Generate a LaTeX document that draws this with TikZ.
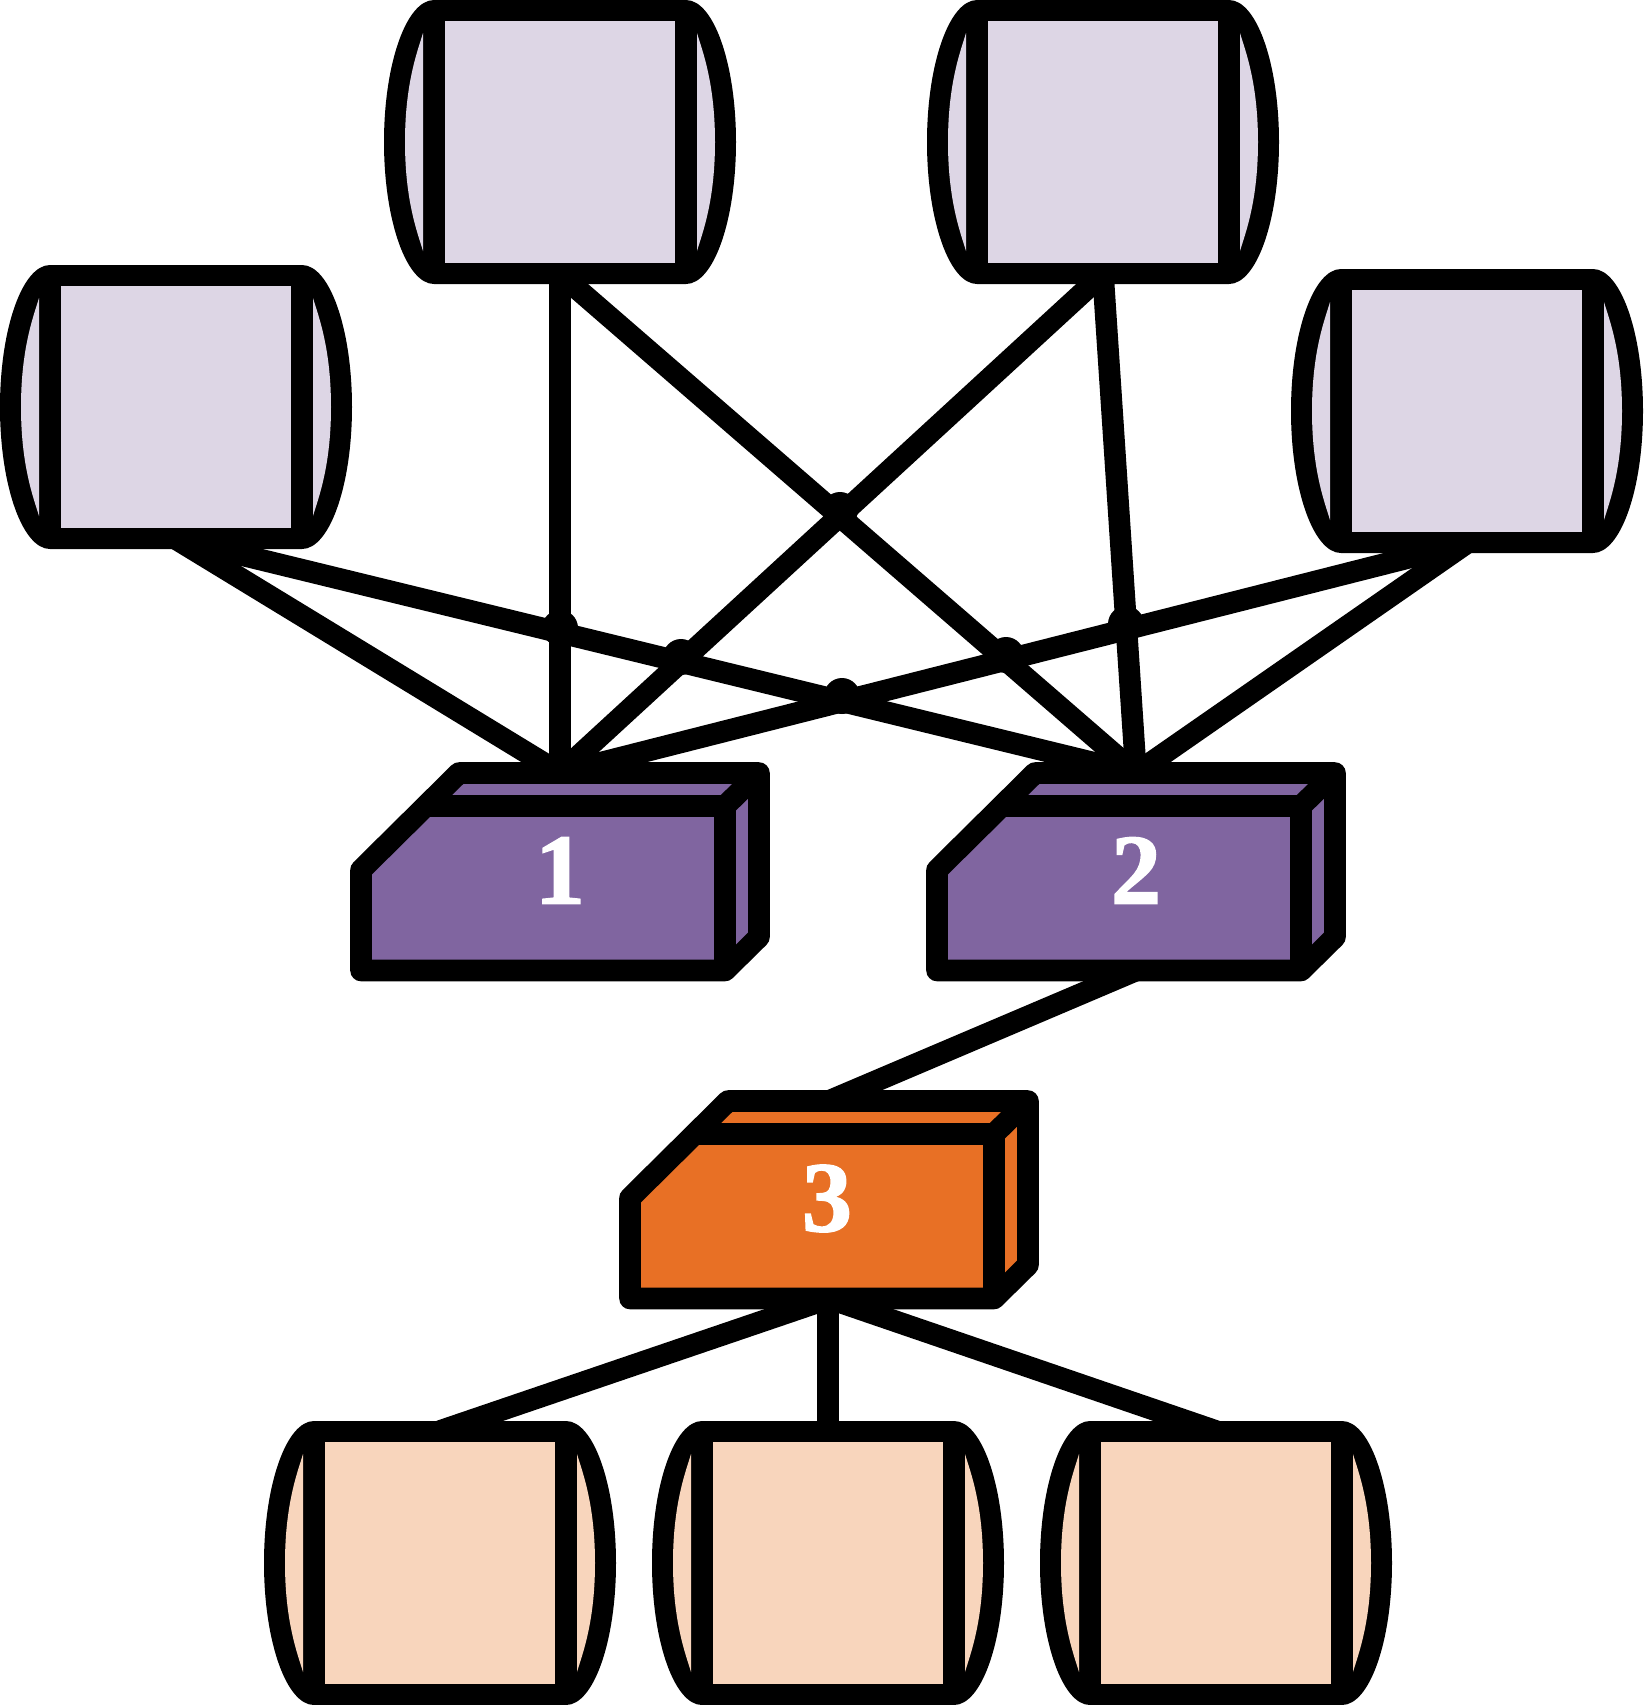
\documentclass[tikz,border=0pt]{standalone}
\usepackage{fontspec}
\newfontfamily\numfont[FakeBold=1.6]{Liberation Serif Bold}
\definecolor{lav}{HTML}{DDD6E5}
\definecolor{purp}{HTML}{8065A0}
\definecolor{orng}{HTML}{E87025}
\definecolor{peach}{HTML}{F8D5BC}
\tikzset{
  x=.5pt,y=-.5pt,
  wire/.style={line width=10.8pt,black,line cap=butt},
  heavy/.style={line width=10.8pt,black,line join=round},
  bump/.style={circle,fill=black,inner sep=0pt,minimum size=18pt},
  digit/.style={text=white,inner sep=0pt},
  pics/store/.style={code={
    \fill[black] (-126,-142) arc[start angle=90,end angle=270,x radius=50,y radius=-142]
      -- (126,142) arc[start angle=-90,end angle=90,x radius=50,y radius=-142] -- cycle;
    \fill[#1] (-137,-109) .. controls (-142,-92) and (-155,-60) .. (-155,0)
      .. controls (-155,60) and (-142,92) .. (-137,109) -- cycle;
    \fill[#1] (137,-109) .. controls (142,-92) and (155,-60) .. (155,0)
      .. controls (155,60) and (142,92) .. (137,109) -- cycle;
    \fill[#1] (-115,-121) rectangle (115,121);
    \coordinate (-top) at (0,-132);
    \coordinate (-bot) at (0,132);
  }},
  pics/switchbox/.style n args={3}{code={
    \draw[heavy,fill=#1] (-199,-1.5) -- (-101,-98.5) -- (199,-98.5) -- (199,65.5)
      -- (165,99) -- (-199,99) -- cycle;
    \draw[heavy] (-135,-65.5) -- (165,-65.5) -- (165,99);
    \draw[heavy] (165,-65.5) -- (199,-98.5);
    \node[digit] (-num) at (#3,-1) {\fontsize{50pt}{50pt}\numfont #2};
    \coordinate (-top) at (0,-98.5);
    \coordinate (-bot) at (0,99);
  }}
}
\begin{document}
\begin{tikzpicture}
\useasboundingbox (0,0) rectangle (1644,1705);
\pic (l) at (176,407) {store=lav};
\pic (a) at (560,142) {store=lav};
\pic (c) at (1103,142) {store=lav};
\pic (r) at (1467,411) {store=lav};
\pic (p) at (440,1563) {store=peach};
\pic (q) at (828,1563) {store=peach};
\pic (s) at (1216,1563) {store=peach};
\pic (b1) at (560,871.5) {switchbox={purp}{1}{0}};
\pic (b2) at (1136,871.5) {switchbox={purp}{2}{0}};
\pic (b3) at (829,1199.5) {switchbox={orng}{3}{-2}};
\foreach \u/\v in {l-bot/b1-top,l-bot/b2-top,a-bot/b1-top,a-bot/b2-top,c-bot/b1-top,c-bot/b2-top,r-bot/b1-top,r-bot/b2-top,b2-bot/b3-top,b3-bot/p-top,b3-bot/s-top}
  \draw[wire] (\u) -- (\v);
\draw[wire] (q-top |- b3-bot) -- (q-top);
\node[bump] (j1) at (560,628) {};
\node[bump] (j2) at (681,657) {};
\node[bump] (j3) at (840,510) {};
\node[bump] (j4) at (1006,655) {};
\node[bump] (j5) at (1126,624) {};
\node[bump] (j6) at (842,696) {};
\end{tikzpicture}
\end{document}
